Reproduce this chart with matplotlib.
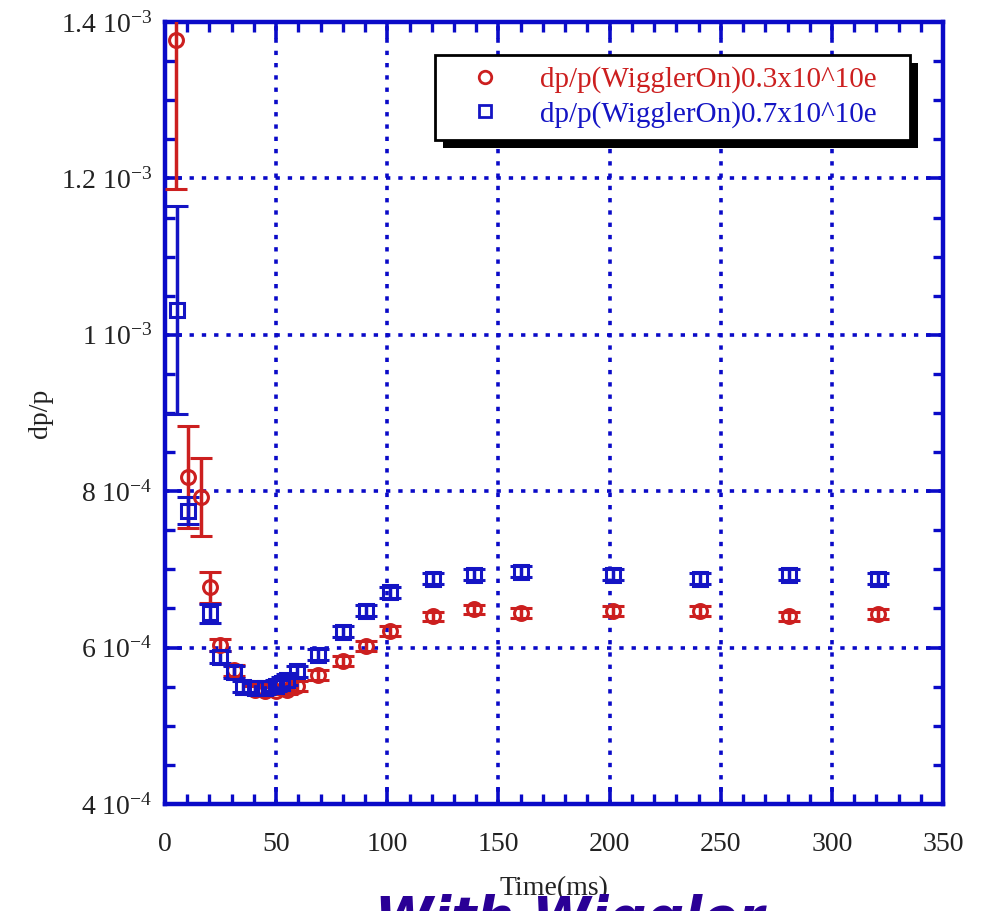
import matplotlib.pyplot as plt
from matplotlib.lines import Line2D
from matplotlib.patches import Rectangle
from matplotlib.ticker import MultipleLocator, FuncFormatter

plt.rcParams['font.family'] = ['Liberation Serif', 'DejaVu Serif']
plt.rcParams['mathtext.fontset'] = 'custom'
plt.rcParams['mathtext.rm'] = 'Liberation Serif'
plt.rcParams['mathtext.it'] = 'Liberation Serif:italic'

# 0.3x10^10 e
t_low = [5, 10.3, 16.2, 20.2, 24.7, 31, 40.5, 45, 50, 55, 59.4, 68.8, 80, 90.4, 101,
         120.5, 139, 160, 201.5, 240.7, 280.7, 320.7]
dp_low = [1.377e-3, 8.18e-4, 7.93e-4, 6.77e-4, 6.03e-4, 5.71e-4, 5.46e-4, 5.45e-4, 5.45e-4,
          5.46e-4, 5.51e-4, 5.65e-4, 5.83e-4, 6.02e-4, 6.21e-4, 6.40e-4, 6.49e-4, 6.44e-4,
          6.47e-4, 6.47e-4, 6.40e-4, 6.43e-4]
err_low = [1.9e-4, 6.5e-5, 5e-5, 2e-5, 8e-6, 7e-6, 5e-6, 5e-6, 5e-6, 5e-6, 6e-6, 6e-6,
           6e-6, 6e-6, 6e-6, 6e-6, 6e-6, 6e-6, 6e-6, 6e-6, 6e-6, 6e-6]

# 0.7x10^10 e
t_high = [5.4, 10.3, 20.2, 24.7, 31, 35, 40.5, 45, 50, 52.5, 55, 59.4, 68.8, 80, 90.4, 101,
          120.5, 139, 160, 201.5, 240.7, 280.7, 320.7]
dp_high = [1.032e-3, 7.75e-4, 6.44e-4, 5.88e-4, 5.69e-4, 5.50e-4, 5.48e-4, 5.48e-4, 5.51e-4,
           5.55e-4, 5.59e-4, 5.70e-4, 5.91e-4, 6.20e-4, 6.47e-4, 6.71e-4, 6.88e-4, 6.93e-4,
           6.97e-4, 6.93e-4, 6.88e-4, 6.93e-4, 6.88e-4]
err_high = [1.33e-4, 1.7e-5, 1.2e-5, 8e-6, 8e-6, 7e-6, 7e-6, 7e-6, 7e-6, 7e-6, 7e-6, 7e-6,
            7e-6, 7e-6, 7e-6, 7e-6, 7e-6, 7e-6, 7e-6, 7e-6, 7e-6, 7e-6, 7e-6]

labels = ['dp/p(WigglerOn)0.3x10^10e', 'dp/p(WigglerOn)0.7x10^10e']

red = '#cc1f1f'
blue = '#1414c4'
axis_blue = '#0a0ac8'

fig = plt.figure(figsize=(9.85, 9.11), dpi=100)
ax = fig.add_axes([0.1675, 0.1175, 0.79, 0.8583])

ax.errorbar(t_low, dp_low, yerr=err_low, fmt='o', color=red, mfc='none', mec=red,
            ms=10, mew=2.2, elinewidth=2.5, capsize=8, capthick=2.5, zorder=3)
ax.errorbar(t_high, dp_high, yerr=err_high, fmt='s', color=blue, mfc='none', mec=blue,
            ms=10, mew=2.2, elinewidth=2.5, capsize=8, capthick=2.5, zorder=3)

ax.set_xlim(0, 350)
ax.set_ylim(4e-4, 1.4e-3)
ax.xaxis.set_major_locator(MultipleLocator(50))
ax.xaxis.set_minor_locator(MultipleLocator(10))
ax.yaxis.set_major_locator(MultipleLocator(2e-4))
ax.yaxis.set_minor_locator(MultipleLocator(5e-5))


def yfmt(v, pos):
    labs = {4: r'4 10$^{-4}$', 6: r'6 10$^{-4}$', 8: r'8 10$^{-4}$',
            10: r'1 10$^{-3}$', 12: r'1.2 10$^{-3}$', 14: r'1.4 10$^{-3}$'}
    return labs.get(int(round(v * 1e4)), '')


ax.yaxis.set_major_formatter(FuncFormatter(yfmt))

ax.grid(True, which='major', color=axis_blue, linestyle=(0, (1.2, 2.2)), linewidth=2.6)
ax.set_axisbelow(True)
for s in ax.spines.values():
    s.set_color(axis_blue)
    s.set_linewidth(3.2)
ax.tick_params(which='both', direction='in', top=True, right=True, color=axis_blue,
               labelsize=20, labelcolor='#222222')
ax.tick_params(which='major', length=12, width=2.6, pad=9)
ax.tick_params(which='minor', length=7, width=2.4)
ax.tick_params(axis='x', which='major', pad=20)

ax.set_xlabel('Time(ms)', fontsize=20, color='#222222', labelpad=14)
ax.set_ylabel('dp/p', fontsize=20, color='#222222', labelpad=6)

# legend frame with a hard black drop shadow
fx0, fx1, fy0, fy1 = 0.347, 0.958, 0.849, 0.958
dx = 8 / (0.79 * 985)
dy = 8 / (0.8583 * 911)
ax.add_patch(Rectangle((fx0 + dx, fy0 - dy), fx1 - fx0, fy1 - fy0, transform=ax.transAxes,
                       facecolor='black', edgecolor='none', zorder=5.3, clip_on=False))
ax.add_patch(Rectangle((fx0, fy0), fx1 - fx0, fy1 - fy0, transform=ax.transAxes,
                       facecolor='white', edgecolor='black', linewidth=2, zorder=5.4,
                       clip_on=False))

handles = [Line2D([], [], marker='o', ls='none', mfc='none', mec=red, ms=9, mew=2),
           Line2D([], [], marker='s', ls='none', mfc='none', mec=blue, ms=9, mew=2)]
leg = ax.legend(handles, labels, loc='upper left', bbox_to_anchor=(fx0, fy1),
                borderaxespad=0, fontsize=21, frameon=False, borderpad=0.4,
                handlelength=2.6, handletextpad=0.6, labelspacing=0.25)
leg.texts[0].set_color(red)
leg.texts[1].set_color(blue)
leg.set_zorder(6)

fig.text(0.578, -0.026, 'With Wiggler', ha='center', va='baseline', fontsize=38,
         fontweight='bold', fontstyle='italic', color='#2a0096', family='DejaVu Sans')

fig.savefig('out.png', dpi=100)
